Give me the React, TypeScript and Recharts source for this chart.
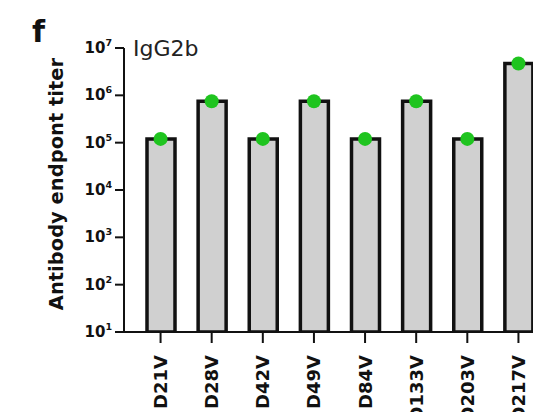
import { ComposedChart, Bar, Line, XAxis, YAxis } from "recharts";

const mutants = ["D21V", "D28V", "D42V", "D49V", "D84V", "D133V", "D203V", "D217V"];
const titers = [1.2e5, 7.5e5, 1.2e5, 7.5e5, 1.2e5, 7.5e5, 1.2e5, 4.7e6];
const yTicks = [1e1, 1e2, 1e3, 1e4, 1e5, 1e6, 1e7];

const data = mutants.map((name, i) => ({ name, titer: titers[i] }));

const FONT = "'DejaVu Sans', Verdana, sans-serif";
const INK = "#111";

// "10" with the exponent raised as a superscript
function PowerTick({ x, y, payload }: any) {
  const exp = Math.round(Math.log10(payload.value));
  return (
    <text x={x - 1} y={y + 5} textAnchor="end" fontFamily={FONT} fontWeight="bold" fontSize={15} fill={INK}>
      10
      <tspan dy={-7} fontSize={9.5}>
        {exp}
      </tspan>
    </text>
  );
}

function MutantTick({ x, y, payload }: any) {
  return (
    <text
      transform={`translate(${x + 6.5},${y + 10}) rotate(-90)`}
      textAnchor="end"
      fontFamily={FONT}
      fontWeight="bold"
      fontSize={18}
      fill={INK}
    >
      {payload.value}
    </text>
  );
}

export default function App() {
  return (
    <div style={{ margin: -8, width: 541, height: 420, overflow: "hidden", background: "#fff" }}>
      <ComposedChart width={560} height={420} data={data} margin={{ top: 48, right: 16, bottom: 0, left: 0 }}>
        <XAxis
          dataKey="name"
          height={88}
          padding={{ left: 11, right: 0 }}
          tickSize={11}
          tick={<MutantTick />}
          axisLine={{ stroke: INK, strokeWidth: 2 }}
          tickLine={{ stroke: INK, strokeWidth: 2 }}
          interval={0}
        />
        <YAxis
          type="number"
          scale="log"
          domain={[10, 1e7]}
          ticks={yTicks}
          allowDataOverflow
          width={124}
          tickSize={9}
          tick={<PowerTick />}
          axisLine={{ stroke: INK, strokeWidth: 2 }}
          tickLine={{ stroke: INK, strokeWidth: 2 }}
        />
        <Bar dataKey="titer" barSize={28} fill="#d0d0d0" stroke={INK} strokeWidth={3.5} isAnimationActive={false} />
        <Line
          dataKey="titer"
          stroke="none"
          dot={{ r: 7, fill: "#1fc41f", stroke: "none" }}
          activeDot={false}
          isAnimationActive={false}
        />
        <text x={32} y={42} fontFamily={FONT} fontWeight="bold" fontSize={30} fill={INK}>
          f
        </text>
        <text x={133} y={56} fontFamily={FONT} fontSize={22} fill="#222">
          IgG2b
        </text>
        <text
          transform="translate(63,184) rotate(-90)"
          textAnchor="middle"
          fontFamily={FONT}
          fontWeight="bold"
          fontSize={19.5}
          fill={INK}
        >
          Antibody endpont titer
        </text>
      </ComposedChart>
    </div>
  );
}
